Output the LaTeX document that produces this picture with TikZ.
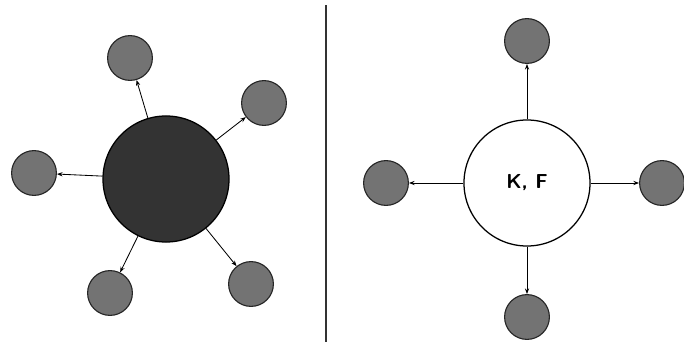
\documentclass[tikz,border=0pt]{standalone}
\usetikzlibrary{arrows.meta}

\begin{document}
\begin{tikzpicture}[x=0.025cm, y=-0.025cm,
    hub/.style={circle, draw=black, line width=0.9pt, minimum size=3.15cm, inner sep=0pt},
    leaf/.style={circle, draw=black!85, fill=black!55, line width=0.8pt, minimum size=1.12cm, inner sep=0pt},
    arr/.style={-{Stealth[length=4pt,width=3pt]}, line width=0.6pt}]
\useasboundingbox (0,0) rectangle (684,342);

% --- left: filled hub ---
\node[hub, fill=black!80] (L) at (166,179) {};
\node[leaf] (La) at (130,58) {};
\node[leaf] (Lb) at (264,103) {};
\node[leaf] (Lc) at (34,173) {};
\node[leaf] (Ld) at (110,293) {};
\node[leaf] (Le) at (251,284) {};
\foreach \t in {La,Lb,Lc,Ld,Le}
  \draw[arr] (L) -- (\t);

% divider
\draw[line width=0.8pt, black!80] (326,5) -- (326,342);

% --- right: open hub ---
\node[hub, fill=white, font=\sffamily\bfseries\Large] (R) at (527,183) {K, F};
\node[leaf] (Ra) at (527,41) {};
\node[leaf] (Rb) at (386,183) {};
\node[leaf] (Rc) at (662,183) {};
\node[leaf] (Rd) at (527,317) {};
\foreach \t in {Ra,Rb,Rc,Rd}
  \draw[arr] (R) -- (\t);
\end{tikzpicture}
\end{document}
